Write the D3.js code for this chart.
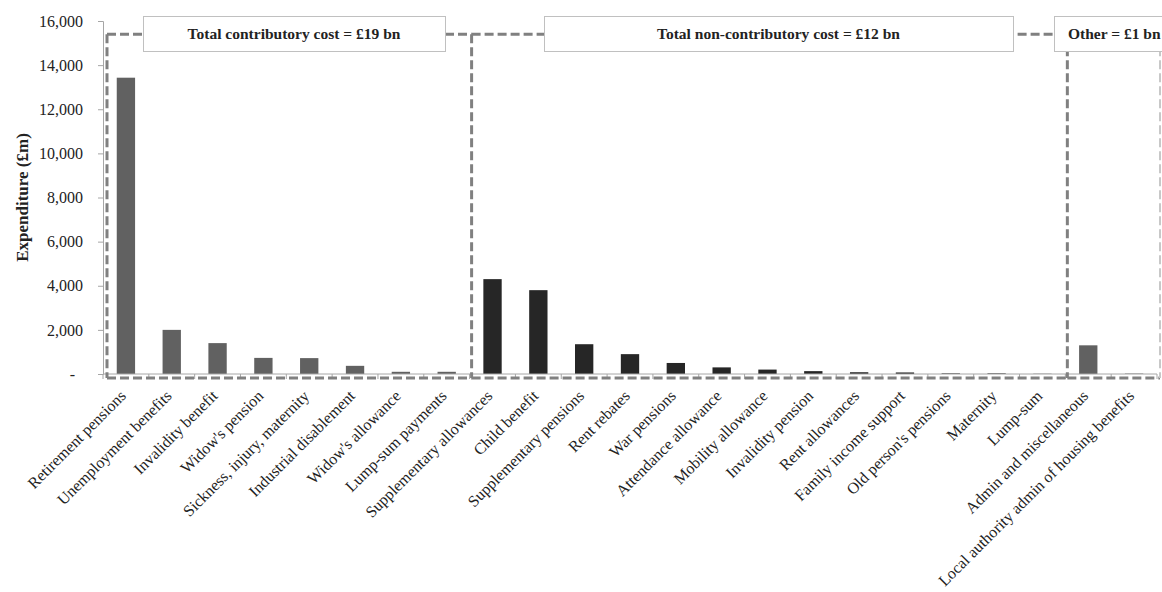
<!DOCTYPE html>
<html>
<head>
<meta charset="utf-8">
<script src="https://cdn.jsdelivr.net/npm/d3@7"></script>
<style>
  html, body { margin: 0; padding: 0; background: #fff; overflow: hidden; }
  svg { display: block; font-family: "Liberation Serif", "DejaVu Serif", serif; }
</style>
</head>
<body>
<svg id="chart" width="1162" height="592"></svg>
<script>
// ---- Data ----
const categories = [
  "Retirement pensions", "Unemployment benefits", "Invalidity benefit", "Widow's pension",
  "Sickness, injury, maternity", "Industrial disablement", "Widow's allowance", "Lump-sum payments",
  "Supplementary allowances", "Child benefit", "Supplementary pensions", "Rent rebates",
  "War pensions", "Attendance allowance", "Mobility allowance", "Invalidity pension",
  "Rent allowances", "Family income support", "Old person's pensions", "Maternity", "Lump-sum",
  "Admin and miscellaneous", "Local authority admin of housing benefits"
];
const values = [
  13430, 2000, 1400, 730, 720, 370, 100, 100,
  4300, 3800, 1350, 900, 500, 300, 200, 130, 80, 70, 30, 30, 10,
  1300, 20
];
const groupLabels = ["Total contributory cost = \u00a319 bn", "Total non-contributory cost = \u00a312 bn", "Other = \u00a31 bn"];
const groupSizes = [8, 13, 2];
const groupColors = ["#616161", "#262626", "#616161"];
const yTicks = [0, 2000, 4000, 6000, 8000, 10000, 12000, 14000, 16000];
const yTitle = "Expenditure (\u00a3m)";

// ---- Layout ----
const W = 1162, H = 592;
const margin = { left: 103, right: 5, top: 21, bottom: 218 };
const svg = d3.select("#chart");

const x = d3.scaleBand().domain(categories)
  .range([margin.left, W - margin.right]).paddingInner(0.6).paddingOuter(0.3);
const y = d3.scaleLinear().domain([0, 16000]).range([H - margin.bottom, margin.top]);

// group index per category
const groupIndex = [];
groupSizes.forEach((n, g) => { for (let i = 0; i < n; i++) groupIndex.push(g); });

// ---- Y axis ----
const yAxis = d3.axisLeft(y).tickValues(yTicks).tickSize(5).tickPadding(15)
  .tickFormat(d => d === 0 ? "-" : d3.format(",")(d));
const gy = svg.append("g").attr("transform", `translate(${margin.left},0)`).call(yAxis);
gy.select(".domain").attr("stroke", "#a6a6a6");
gy.selectAll(".tick line").attr("stroke", "#a6a6a6");
gy.selectAll(".tick text").attr("font-size", 16).attr("fill", "#222")
  .attr("font-family", "Liberation Serif, serif");
gy.selectAll(".tick").filter(d => d === 0).select("text").attr("dx", -8);

svg.append("text")
  .attr("transform", `translate(28,${(y(0) + y(16000)) / 2}) rotate(-90)`)
  .attr("text-anchor", "middle").attr("font-size", 17).attr("font-weight", "bold")
  .attr("fill", "#222").text(yTitle);

// ---- Bars ----
svg.append("g").selectAll("rect").data(categories).join("rect")
  .attr("x", d => x(d))
  .attr("width", x.bandwidth())
  .attr("y", (d, i) => y(values[i]))
  .attr("height", (d, i) => y(0) - y(values[i]))
  .attr("fill", (d, i) => groupColors[groupIndex[i]]);

// ---- X axis ----
const step = x.step();
const x0 = margin.left;
const gx = svg.append("g");
gx.append("line").attr("x1", x0).attr("x2", W - margin.right)
  .attr("y1", y(0)).attr("y2", y(0)).attr("stroke", "#a6a6a6");
gx.selectAll("line.tk").data(d3.range(categories.length + 1)).join("line")
  .attr("class", "tk")
  .attr("x1", i => x0 + i * step).attr("x2", i => x0 + i * step)
  .attr("y1", y(0)).attr("y2", y(0) + 5).attr("stroke", "#a6a6a6");
gx.selectAll("text").data(categories).join("text")
  .attr("transform", d => `translate(${x(d) + x.bandwidth() / 2 - 3},${y(0) + 19}) rotate(-45)`)
  .attr("text-anchor", "end").attr("font-size", 16).attr("fill", "#222")
  .attr("dy", "0.35em")
  .text(d => d);

// ---- Group dashed boxes ----
const boxTop = y(15400);
const boxBottom = y(0) + 4;
let start = 0;
const bounds = groupSizes.map(n => { const b = [start, start + n]; start += n; return b; });
const gb = svg.append("g").attr("fill", "none").attr("stroke", "#808080")
  .attr("stroke-width", 3).attr("stroke-dasharray", "9,4");
bounds.forEach((b, g) => {
  const left = g === 0 ? x0 + 4 : x0 + b[0] * step + 2;
  const right = x0 + b[1] * step + (g === bounds.length - 1 ? 3 : 2);
  gb.append("line").attr("x1", left).attr("x2", right).attr("y1", boxTop).attr("y2", boxTop);
  gb.append("line").attr("x1", left).attr("x2", left).attr("y1", boxTop).attr("y2", boxBottom);
  gb.append("line").attr("x1", left).attr("x2", right).attr("y1", boxBottom).attr("y2", boxBottom);
  if (g === bounds.length - 1) {
    gb.append("line").attr("x1", right).attr("x2", right).attr("y1", boxTop).attr("y2", boxBottom)
      .attr("stroke", "#c8c8c8").attr("stroke-width", 2);
  }
});

// ---- Group labels ----
const labelBoxes = [
  { x: 143, w: 302 },
  { x: 544, w: 469 },
  { x: 1054, w: 130 }
];
const gl = svg.append("g");
groupLabels.forEach((t, g) => {
  const b = labelBoxes[g];
  gl.append("rect").attr("x", b.x + 0.5).attr("y", 16.5).attr("width", b.w).attr("height", 35)
    .attr("fill", "#fff").attr("stroke", "#c0c0c0");
  gl.append("text")
    .attr("x", g === 2 ? b.x + 14 : b.x + b.w / 2)
    .attr("y", 34).attr("dy", "0.35em")
    .attr("text-anchor", g === 2 ? "start" : "middle")
    .attr("font-size", 15.5).attr("font-weight", "bold").attr("fill", "#222")
    .text(t);
});
</script>
</body>
</html>
